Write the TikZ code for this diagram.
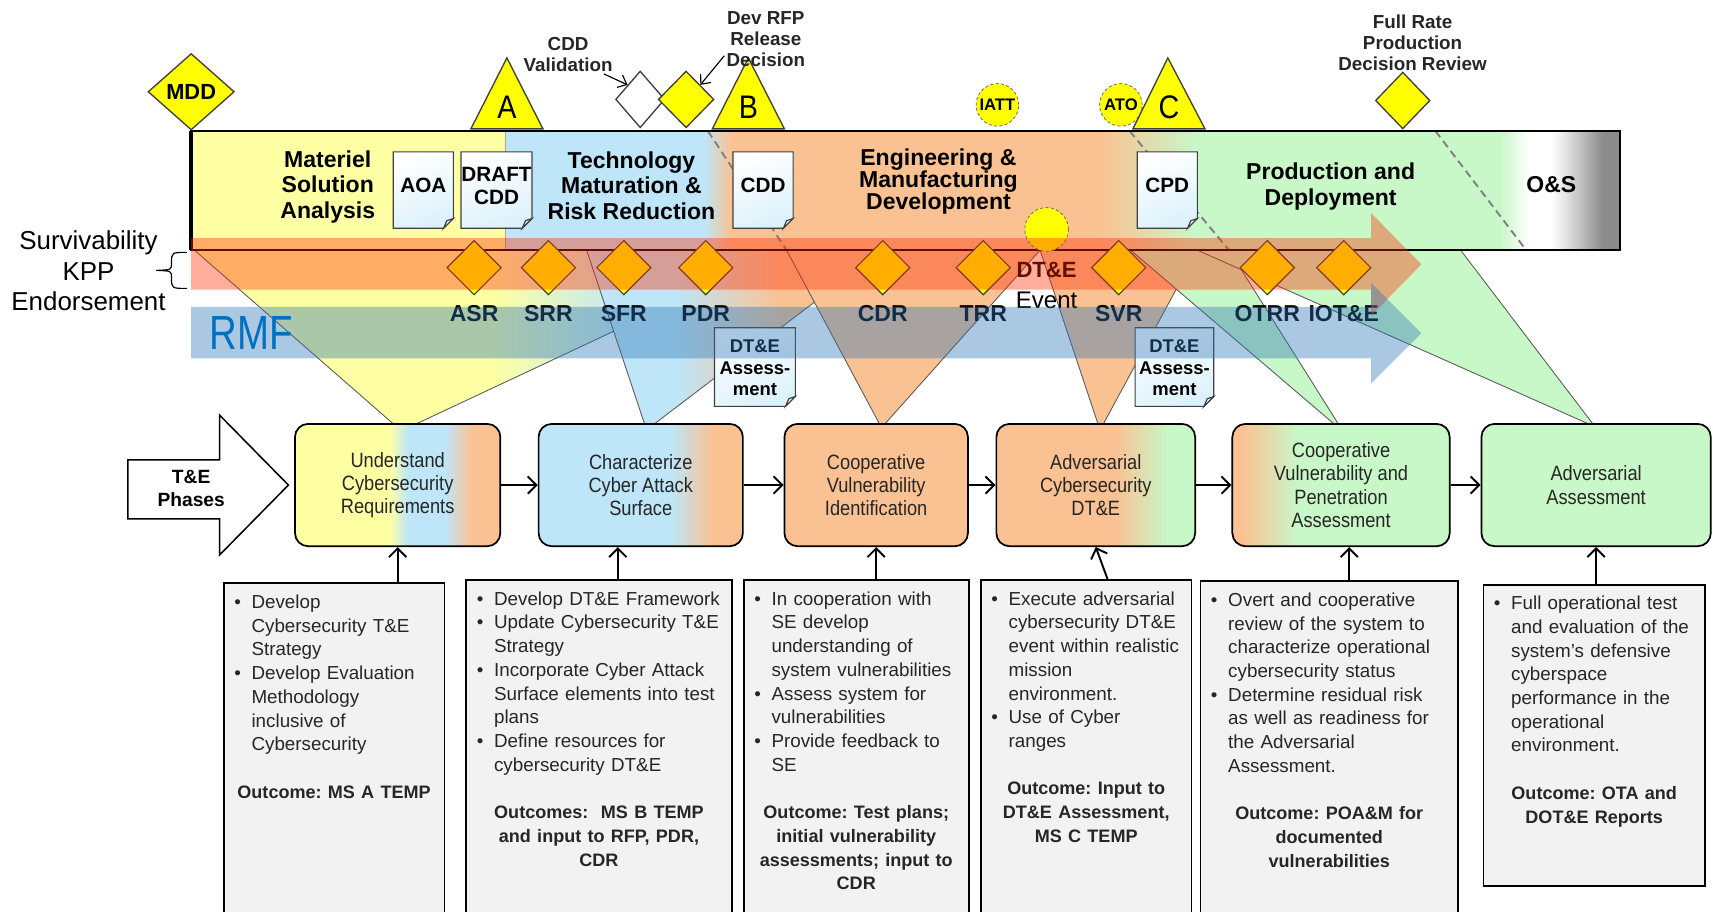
\documentclass[tikz,border=0pt]{standalone}
\usepackage{fontspec}
\setmainfont{Liberation Sans}
\newfontfamily\narrowfont[FakeStretch=0.88]{Liberation Sans}
\newfontfamily\rmffont[FakeStretch=0.8]{Liberation Sans}
\usepackage{tikz}
\usetikzlibrary{shapes.geometric,arrows.meta}

\definecolor{yel}{HTML}{FFFFA3}
\definecolor{blu}{HTML}{BEE6F8}
\definecolor{ora}{HTML}{FAC293}
\definecolor{grn}{HTML}{C8F7C8}
\definecolor{msyel}{HTML}{FFFF00}
\definecolor{bandred}{HTML}{FF2A00}
\definecolor{bandblue}{HTML}{2E75B6}
\definecolor{rmfblue}{HTML}{0070C0}
\definecolor{boxgray}{HTML}{F2F2F2}

\pgfdeclarehorizontalshading{barsh}{100bp}{color(0bp)=(blu); color(33.9bp)=(blu); color(35.1bp)=(ora); color(51.7bp)=(ora); color(55.9bp)=(grn); color(69.6bp)=(grn); color(70.9bp)=(white); color(71.9bp)=(white); color(72.4bp)=(black!8); color(74.2bp)=(black!45); color(100bp)=(black!50)}
\pgfdeclarehorizontalshading{tebox1}{100bp}{color(0bp)=(yel); color(48bp)=(yel); color(52.5bp)=(blu); color(61.5bp)=(blu); color(68bp)=(ora); color(100bp)=(ora)}
\pgfdeclarehorizontalshading{tebox2}{100bp}{color(0bp)=(blu); color(57.5bp)=(blu); color(67.5bp)=(ora); color(100bp)=(ora)}
\pgfdeclarehorizontalshading{tebox4}{100bp}{color(0bp)=(ora); color(55bp)=(ora); color(68bp)=(grn); color(100bp)=(grn)}
\pgfdeclarehorizontalshading{tebox5}{100bp}{color(0bp)=(ora); color(27.5bp)=(ora); color(40bp)=(grn); color(100bp)=(grn)}
\pgfdeclarehorizontalshading{funnel1}{100bp}{color(0bp)=(yel); color(50bp)=(yel); color(62bp)=(blu); color(100bp)=(blu)}
\pgfdeclarehorizontalshading{funnel2}{100bp}{color(0bp)=(blu); color(40bp)=(blu); color(58bp)=(ora); color(100bp)=(ora)}

\tikzset{
  phasetxt/.style={font=\bfseries\fontsize{12}{13.4}\selectfont, align=center, inner sep=0pt},
  mslabel/.style={font=\bfseries\fontsize{9.8}{10.8}\selectfont, align=center, inner sep=1pt, text=black!85},
  msdia/.style={diamond, draw=black!75, fill=msyel, line width=0.7pt, inner sep=0pt, minimum width=1.02cm, minimum height=1.04cm},
  mstri/.style={draw=black!75, fill=msyel, line width=0.7pt},
  msletter/.style={font=\narrowfont\fontsize{17}{17}\selectfont, inner sep=0pt},
  mscircle/.style={circle, draw=black!60, dash pattern=on 1.6pt off 1.2pt, fill=msyel, minimum size=0.78cm, inner sep=0pt, font=\bfseries\fontsize{8.7}{9}\selectfont},
  revdia/.style={diamond, draw=black!75, fill=msyel, line width=0.6pt, inner sep=0pt, minimum width=1.0cm, minimum height=1.0cm},
  revlbl/.style={font=\bfseries\fontsize{12}{13}\selectfont, inner sep=0pt},
  docshade/.style={top color=white, bottom color=blu!55, shading angle=20},
  docline/.style={draw=black!75, line width=0.6pt},
  doctxt/.style={font=\bfseries\fontsize{10.8}{12}\selectfont, align=center, inner sep=0pt},
  funnel/.style={draw=black!65, line width=0.45pt},
  phasedash/.style={draw=black!50, line width=1pt, dash pattern=on 4pt off 2.5pt},
  tebox/.style={draw=black, line width=0.9pt, rounded corners=0.24cm, minimum height=2.24cm, align=center, font=\narrowfont\fontsize{10.8}{12.2}\selectfont, text=black!85},
  descbox/.style={draw=black, line width=0.9pt, fill=boxgray, inner sep=0pt, anchor=north west},
  desctxt/.style={anchor=north, inner xsep=2pt, inner ysep=0pt, align=left, font=\frenchspacing\fontsize{9.8}{12.35}\selectfont, text=black!85},
  flowarr/.style={-{Straight Barb[length=4.5pt,width=9pt]}, line width=1pt},
  thinarr/.style={-{Straight Barb[length=4pt,width=7pt]}, line width=0.6pt},
}

% page icon with a folded corner
\newcommand{\docpage}[7][]{%
  \shade[docshade] (#3,#4) -- (#5,#4) -- (#5,#6-9) -- (#5-9,#6) -- (#3,#6) -- cycle;
  \draw[docline] (#3,#4) -- (#5,#4) -- (#5,#6-9) -- (#5-9,#6) -- (#3,#6) -- cycle;
  \draw[docline, fill=black!8] (#5,#6-9) -- (#5-6,#6-7) -- (#5-9,#6) -- cycle;
  \node[doctxt,#1] (#2) at ({(#3+#5)/2},{(#4+#6)/2-4}) {#7};
}
\newcommand{\tebul}[1]{\par\noindent\hangindent=12.5pt\hangafter=1\makebox[12.5pt][l]{\hspace{3.5pt}\textbullet}#1}
\newcommand{\teout}[1]{\par\vspace{12.35pt}{\centering\bfseries\fontsize{9.4}{12.35}\selectfont #1\par}}

\begin{document}
\begin{tikzpicture}[x=0.02cm, y=-0.02cm]
\useasboundingbox (0,0) rectangle (1568,834);

% funnels from the acquisition phases down to the T&E phases
\shade[shading=funnel1] (178,229) -- (720,229) -- (381,388) -- (360,388) -- cycle;
\draw[funnel] (178,229) -- (360,388) (381,388) -- (720,229);
\shade[shading=funnel2] (537,229) -- (808,229) -- (599,388) -- (590,388) -- cycle;
\draw[funnel] (537,229) -- (590,388) (599,388) -- (808,229);
\fill[ora] (720,229) -- (952,229) -- (810,388) -- (805,388) -- cycle;
\draw[funnel] (720,229) -- (805,388) (810,388) -- (952,229);
\fill[ora] (952,229) -- (1096,229) -- (1010,388) -- (1005,388) -- cycle;
\draw[funnel] (952,229) -- (1005,388) (1010,388) -- (1096,229);
\fill[grn] (1035,229) -- (1125,229) -- (1225,388) -- (1221,388) -- cycle;
\draw[funnel] (1035,229) -- (1221,388) (1225,388) -- (1125,229);
\fill[grn] (1096,229) -- (1337,229) -- (1458,388) -- (1454,388) -- cycle;
\draw[funnel] (1096,229) -- (1454,388) (1458,388) -- (1337,229);

% acquisition phase bar
\fill[yel] (175,120) rectangle (463,229);
\shade[shading=barsh] (463,120) rectangle (1483,229);
\draw[black!35] (463,120) -- (463,229);
\draw[phasedash] (648,120) -- (720,229);
\draw[phasedash] (1034,120) -- (1125,229);
\draw[phasedash] (1314,120) -- (1397,229);
\draw[line width=0.9pt] (175,120) rectangle (1483,229);
\draw[line width=1.8pt] (175,120) -- (175,229);

\docpage{aoa}{360}{139}{415}{209}{AOA}
\docpage{draftcdd}{422}{139}{487}{209}{DRAFT\\CDD}
\docpage{cdd}{671}{139}{726}{209}{CDD}
\docpage{cpd}{1041}{139}{1096}{209}{CPD}

\node[phasetxt] (msa) at (300,171) {Materiel\\Solution\\Analysis};
\node[phasetxt] (tmrr) at (578,170) {Technology\\Maturation \&\\Risk Reduction};
\node[phasetxt, font=\bfseries\fontsize{12}{11.6}\selectfont] (emd) at (859,166) {Engineering \&\\Manufacturing\\Development};
\node[phasetxt] (pd) at (1218,171) {Production and\\Deployment};
\node[phasetxt] (os) at (1420,169) {O\&S};

% milestones
\node[msdia, minimum width=1.58cm, minimum height=1.4cm, font=\bfseries\fontsize{11.4}{12}\selectfont] (mdd) at (175,84) {MDD};
\draw[mstri] (431,118) -- (497,118) -- (464,53) -- cycle;
\node[msletter] (msA) at (464,98) {A};
\node[msdia, fill=white, minimum width=0.9cm] (cddval) at (586,91) {};
\node[msdia] (rfpdec) at (628,91) {};
\draw[mstri] (652,118) -- (718,118) -- (685,53) -- cycle;
\node[msletter] (msB) at (685,98) {B};
\node[mscircle] (iatt) at (913,96) {IATT};
\node[mscircle] (ato) at (1026,96) {ATO};
\draw[mstri] (1037,118) -- (1103,118) -- (1069,53) -- cycle;
\node[msletter] (msC) at (1070,98) {C};
\node[msdia, minimum width=1.0cm] (frp) at (1284,92) {};
\node[mslabel] (cddvallbl) at (520,50) {CDD\\Validation};
\node[mslabel] (rfpdeclbl) at (701,36) {Dev RFP\\Release\\Decision};
\node[mslabel] (frplbl) at (1293,39) {Full Rate\\Production\\Decision Review};
\draw[thinarr] ([xshift=-0.2cm]cddvallbl.south east) -- (cddval.north west);
\draw[thinarr] ([yshift=-0.3cm]rfpdeclbl.west) -- (rfpdec.north east);

\docpage[font=\bfseries\fontsize{9.6}{11.2}\selectfont, yshift=-0.1cm]{dteA}{654}{300}{728}{372}{DT\&E\\Assess-\\ment}
\docpage[font=\bfseries\fontsize{9.6}{11.2}\selectfont, yshift=-0.1cm]{dteB}{1039}{300}{1111}{372}{DT\&E\\Assess-\\ment}

% technical reviews
\foreach \n/\x/\t in {asr/434/ASR, srr/502/SRR, sfr/571/SFR, pdr/646/PDR, cdr/808/CDR, trr/900/TRR, svr/1024/SVR, otrr/1160/OTRR, iote/1230/IOT\&E}{
  \node[revdia] (\n) at (\x,245) {};
  \node[revlbl] (\n lbl) at (\x,287) {\t};
}
\node[mscircle, minimum size=0.8cm] (dtecirc) at (958,210) {};
\node[revlbl, font=\bfseries\fontsize{11.5}{12}\selectfont] (dtelbl) at (958,247) {DT\&E};
\node[revlbl, font=\fontsize{12.5}{13}\selectfont] (evlbl) at (958,275) {Event};

% bands
\fill[bandred, opacity=0.38] (175,218) -- (1255,218) -- (1255,195) -- (1301,242) -- (1255,289) -- (1255,265) -- (175,265) -- cycle;
\fill[bandblue, opacity=0.4] (175,281) -- (1255,281) -- (1255,259) -- (1301,305) -- (1255,351) -- (1255,328) -- (175,328) -- cycle;
\node[font=\rmffont\fontsize{25}{25}\selectfont, text=rmfblue, inner sep=0pt] (rmf) at (230,305) {RMF};
\node[font=\fontsize{13.5}{16}\selectfont, align=center, inner sep=0pt] (surv) at (81,248) {Survivability\\KPP\\Endorsement};
\draw[line width=0.6pt] (171,231) .. controls (157,231) .. (157,241) .. controls (157,247) .. (143,247.5) .. controls (157,248) .. (157,254) .. controls (157,264) .. (171,264);

% T&E phases
\draw[line width=0.8pt, fill=white] (117,421) -- (201,421) -- (201,380) -- (264,444) -- (201,508) -- (201,475) -- (117,475) -- cycle;
\node[font=\bfseries\fontsize{10}{12}\selectfont, align=center] (tephases) at (175,447) {T\&E\\Phases};

\node[tebox, shade, shading=tebox1, minimum width=3.76cm] (box1) at (364,444) {Understand\\Cybersecurity\\Requirements};
\node[tebox, shade, shading=tebox2, minimum width=3.74cm] (box2) at (586.5,444) {Characterize\\Cyber Attack\\Surface};
\node[tebox, fill=ora, minimum width=3.36cm] (box3) at (802,444) {Cooperative\\Vulnerability\\Identification};
\node[tebox, shade, shading=tebox4, minimum width=3.64cm] (box4) at (1003,444) {Adversarial\\Cybersecurity\\DT\&E};
\node[tebox, shade, shading=tebox5, minimum width=3.98cm] (box5) at (1227.5,444) {Cooperative\\Vulnerability and\\Penetration\\Assessment};
\node[tebox, fill=grn, minimum width=4.2cm] (box6) at (1461,444) {Adversarial\\Assessment};
\foreach \a/\b in {box1/box2, box2/box3, box3/box4, box4/box5, box5/box6}
  \draw[flowarr] (\a) -- (\b);

% activities and outcomes
\node[descbox, minimum width=4.04cm, minimum height=6.3cm] (descA) at (204,533) {};
\node[descbox, minimum width=4.86cm, minimum height=6.3cm] (descB) at (426,530) {};
\node[descbox, minimum width=4.12cm, minimum height=6.3cm] (descC) at (680,530) {};
\node[descbox, minimum width=3.86cm, minimum height=6.3cm] (descD) at (897,530) {};
\node[descbox, minimum width=4.72cm, minimum height=6.3cm] (descE) at (1098,531) {};
\node[descbox, minimum width=4.06cm, minimum height=5.5cm] (descF) at (1357,535) {};

\node[desctxt, text width=3.9cm] (descAtxt) at ([yshift=-0.04cm]descA.north) {%
\tebul{Develop\newline Cybersecurity T\&E\newline Strategy}
\tebul{Develop Evaluation\newline Methodology\newline inclusive of\newline Cybersecurity}
\teout{Outcome: MS A TEMP}};
\node[desctxt, text width=4.72cm] (descBtxt) at ([yshift=-0.04cm]descB.north) {%
\tebul{Develop DT\&E Framework}
\tebul{Update Cybersecurity T\&E\newline Strategy}
\tebul{Incorporate Cyber Attack\newline Surface elements into test\newline plans}
\tebul{Define resources for\newline cybersecurity DT\&E}
\teout{Outcomes:~ MS B TEMP\\and input to RFP, PDR,\\CDR}};
\node[desctxt, text width=3.98cm] (descCtxt) at ([yshift=-0.04cm]descC.north) {%
\tebul{In cooperation with\newline SE develop\newline understanding of\newline system vulnerabilities}
\tebul{Assess system for\newline vulnerabilities}
\tebul{Provide feedback to\newline SE}
\teout{Outcome: Test plans;\\initial vulnerability\\assessments; input to\\CDR}};
\node[desctxt, text width=3.72cm] (descDtxt) at ([yshift=-0.04cm]descD.north) {%
\tebul{Execute adversarial\newline cybersecurity DT\&E\newline event within realistic\newline mission\newline environment.}
\tebul{Use of Cyber\newline ranges}
\teout{Outcome: Input to\\DT\&E Assessment,\\MS C TEMP}};
\node[desctxt, text width=4.58cm] (descEtxt) at ([yshift=-0.04cm]descE.north) {%
\tebul{Overt and cooperative\newline review of the system to\newline characterize operational\newline cybersecurity status}
\tebul{Determine residual risk\newline as well as readiness for\newline the Adversarial\newline Assessment.}
\teout{Outcome: POA\&M for\\documented\\vulnerabilities}};
\node[desctxt, text width=3.92cm] (descFtxt) at ([yshift=-0.02cm]descF.north) {%
\tebul{Full operational test\newline and evaluation of the\newline system’s defensive\newline cyberspace\newline performance in the\newline operational\newline environment.}
\teout{Outcome: OTA and\\DOT\&E Reports}};

\coordinate (b2s) at ([xshift=-0.42cm]box2.south);
\coordinate (b5s) at ([xshift=0.15cm]box5.south);
\draw[flowarr] (descA.north -| box1.south) -- (box1.south);
\draw[flowarr] (descB.north -| b2s) -- (b2s);
\draw[flowarr] (descC.north -| box3.south) -- (box3.south);
\draw[flowarr] ([xshift=0.39cm]descD.north) -- (box4.south);
\draw[flowarr] (descE.north -| b5s) -- (b5s);
\draw[flowarr] (descF.north -| box6.south) -- (box6.south);
\end{tikzpicture}
\end{document}
